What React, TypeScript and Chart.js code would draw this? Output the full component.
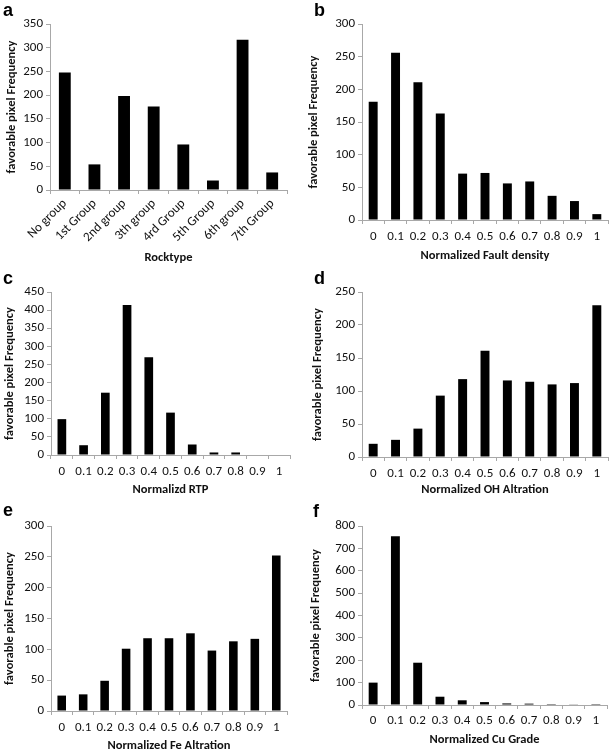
import React, { useEffect, useRef } from "react";
import { Chart, registerables } from "chart.js";

Chart.register(...registerables);

// ---------- data ----------
const rockCategories = ["No group", "1st Group", "2nd group", "3th group", "4rd Group", "5th Group", "6th group", "7th Group"];
const normCategories = ["0", "0.1", "0.2", "0.3", "0.4", "0.5", "0.6", "0.7", "0.8", "0.9", "1"];

const rocktypeFreq = [248, 54, 198, 176, 96, 20, 317, 37];
const faultFreq = [181, 256, 211, 163, 71, 72, 56, 59, 37, 29, 9];
const rtpFreq = [99, 27, 172, 414, 270, 117, 29, 7, 7, 0, 0];
const ohFreq = [20, 26, 43, 93, 118, 161, 116, 114, 110, 112, 230];
const feFreq = [25, 27, 49, 101, 118, 118, 126, 98, 113, 117, 252];
const cuFreq = [100, 754, 189, 37, 21, 13, 7, 6, 4, 3, 4];

const yTitle = "favorable pixel Frequency";

const FONT = "Carlito, Calibri, Lato, 'Open Sans', sans-serif";
const TICK_SIZE = 13;
const TITLE_SIZE = 12.5;
const TITLE_LH = TITLE_SIZE * 1.2;
const AXIS_COLOR = "#a8a8a8";

type Panel = {
  letter: string;
  letterX: number;
  letterY: number;
  categories: string[];
  values: number[];
  xTitle: string;
  yMax: number;
  yStep: number;
  area: { l: number; t: number; r: number; b: number };
  yTitleX: number;
  xTitleY: number;
  xTickPad: number;
  rotated?: boolean;
};

const panels: Panel[] = [
  { letter: "a", letterX: 3, letterY: 1, categories: rockCategories, values: rocktypeFreq, xTitle: "Rocktype", yMax: 350, yStep: 50,
    area: { l: 50, t: 24, r: 287, b: 190 }, yTitleX: 11, xTitleY: 257, xTickPad: 2, rotated: true },
  { letter: "b", letterX: 314, letterY: 1, categories: normCategories, values: faultFreq, xTitle: "Normalized Fault density", yMax: 300, yStep: 50,
    area: { l: 362, t: 24, r: 608, b: 220 }, yTitleX: 313, xTitleY: 255, xTickPad: 5 },
  { letter: "c", letterX: 3, letterY: 269, categories: normCategories, values: rtpFreq, xTitle: "Normalizd RTP", yMax: 450, yStep: 50,
    area: { l: 51, t: 292, r: 290, b: 455 }, yTitleX: 9, xTitleY: 489, xTickPad: 5 },
  { letter: "d", letterX: 314, letterY: 269, categories: normCategories, values: ohFreq, xTitle: "Normalized OH Altration", yMax: 250, yStep: 50,
    area: { l: 362, t: 292, r: 608, b: 457 }, yTitleX: 317, xTitleY: 489, xTickPad: 5 },
  { letter: "e", letterX: 3, letterY: 501, categories: normCategories, values: feFreq, xTitle: "Normalized Fe Altration", yMax: 300, yStep: 50,
    area: { l: 51, t: 526, r: 287, b: 711 }, yTitleX: 9, xTitleY: 745, xTickPad: 5 },
  { letter: "f", letterX: 313, letterY: 502, categories: normCategories, values: cuFreq, xTitle: "Normalized Cu Grade", yMax: 800, yStep: 100,
    area: { l: 362, t: 526, r: 607, b: 705 }, yTitleX: 315, xTitleY: 739, xTickPad: 4 },
];

function PanelChart({ p }: { p: Panel }) {
  const ref = useRef<HTMLCanvasElement | null>(null);
  const canvasX = Math.round(p.yTitleX - TITLE_LH / 2);
  const canvasY = p.area.t - 14;
  const canvasR = p.area.r + 2;
  const canvasW = canvasR - canvasX;
  const canvasB = Math.round(p.xTitleY + TITLE_LH / 2);
  const canvasH = canvasB - canvasY;

  useEffect(() => {
    if (!ref.current) return;
    const yWidth = p.area.l - canvasX;
    const xHeight = canvasB - p.area.b;
    const chart = new Chart(ref.current, {
      type: "bar",
      data: {
        labels: p.categories,
        datasets: [
          {
            data: p.values,
            backgroundColor: "#000000",
            borderWidth: 0,
            barPercentage: 0.4,
            categoryPercentage: 1,
          },
        ],
      },
      options: {
        responsive: false,
        animation: false,
        devicePixelRatio: 1,
        layout: { padding: { left: 0, top: p.area.t - canvasY, right: canvasR - p.area.r, bottom: 0 } },
        plugins: { legend: { display: false }, tooltip: { enabled: false }, title: { display: false } },
        scales: {
          x: {
            type: "category",
            offset: true,
            grid: { display: true, offset: true, drawOnChartArea: false, drawTicks: true, tickLength: 4, color: AXIS_COLOR, lineWidth: 1 },
            border: { display: true, color: AXIS_COLOR, width: 1 },
            ticks: {
              color: "#111",
              font: { family: FONT, size: TICK_SIZE },
              padding: p.xTickPad,
              autoSkip: false,
              minRotation: p.rotated ? 45 : 0,
              maxRotation: p.rotated ? 45 : 0,
            },
            title: { display: true, text: p.xTitle, color: "#111", font: { family: FONT, size: TITLE_SIZE, weight: "bold" }, padding: 0 },
            afterFit: (s: any) => { s.height = xHeight; },
          },
          y: {
            min: 0,
            max: p.yMax,
            grid: { display: true, drawOnChartArea: false, drawTicks: true, tickLength: 4, color: AXIS_COLOR, lineWidth: 1 },
            border: { display: true, color: AXIS_COLOR, width: 1 },
            ticks: { stepSize: p.yStep, autoSkip: false, color: "#111", font: { family: FONT, size: TICK_SIZE }, padding: 3 },
            title: { display: true, text: yTitle, color: "#111", font: { family: FONT, size: TITLE_SIZE, weight: "bold" }, padding: 0 },
            afterFit: (s: any) => { s.width = yWidth; },
          },
        },
      },
    });
    return () => chart.destroy();
  }, []);

  return (
    <>
      <canvas
        ref={ref}
        width={canvasW}
        height={canvasH}
        style={{ position: "absolute", left: canvasX, top: canvasY, width: canvasW, height: canvasH }}
      />
      <div
        style={{
          position: "absolute",
          left: p.letterX,
          top: p.letterY,
          fontFamily: "'Liberation Sans', Arial, sans-serif",
          fontWeight: "bold",
          fontSize: 18,
          lineHeight: "18px",
          color: "#000",
        }}
      >
        {p.letter}
      </div>
    </>
  );
}

export default function App() {
  return (
    <div style={{ position: "absolute", left: 0, top: 0, width: 609, height: 751, background: "#fff", overflow: "hidden" }}>
      {panels.map((p) => (
        <PanelChart key={p.letter} p={p} />
      ))}
    </div>
  );
}
